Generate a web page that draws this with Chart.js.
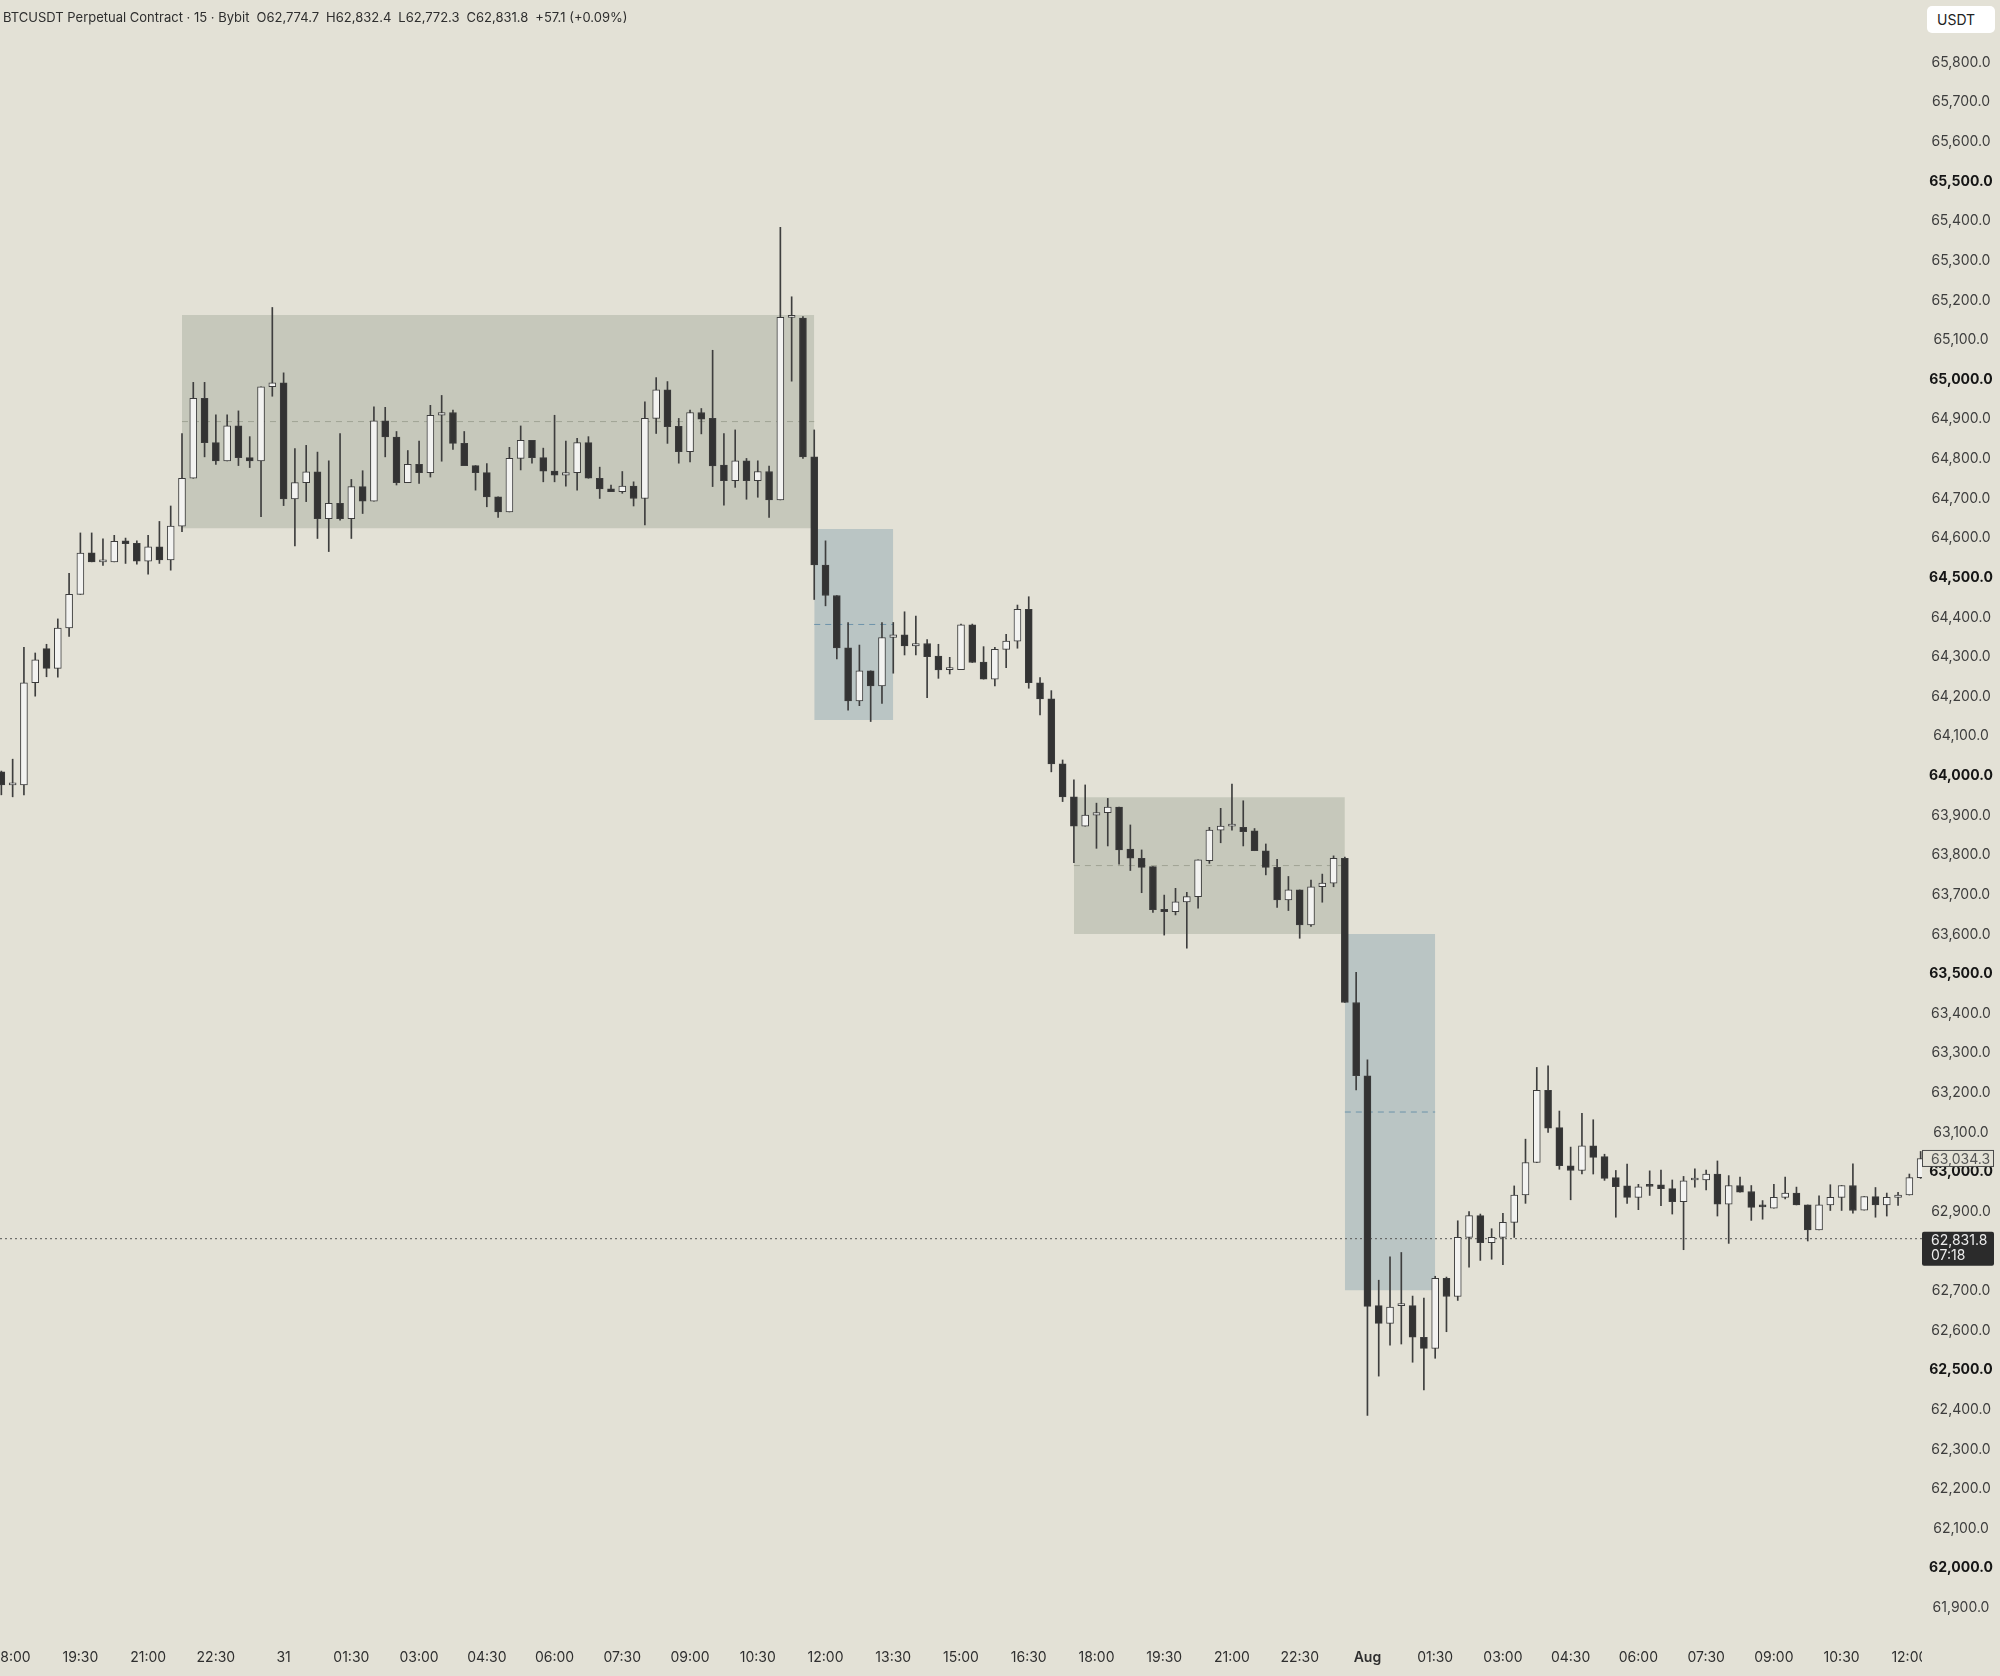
<!DOCTYPE html>
<html>
<head>
<meta charset="utf-8">
<title>BTCUSDT 15m</title>
<script src="https://cdn.jsdelivr.net/npm/chart.js@4.4.1/dist/chart.umd.min.js"></script>
<style>
  html, body { margin: 0; padding: 0; background: #e3e1d6; }
  #wrap { position: relative; width: 2000px; height: 1676px; overflow: hidden; }
  #legend {
    position: absolute; left: 3px; top: 9px;
    font: 13px Inter, "Noto Sans", sans-serif; color: #2e2e2e; white-space: pre;
  }
  #legend span { margin-left: 7px; }
  #unit {
    position: absolute; left: 1927px; top: 6px; width: 68px; height: 27px;
    background: #fff; border-radius: 5px; box-sizing: border-box; padding-left: 10px;
    font: 14px Inter, "Noto Sans", sans-serif; line-height: 27px; color: #222;
  }
</style>
</head>
<body>
<div id="wrap">
  <canvas id="chart"></canvas>
  <div id="legend">BTCUSDT Perpetual Contract · 15 · Bybit<span>O62,774.7</span><span>H62,832.4</span><span>L62,772.3</span><span>C62,831.8</span><span>+57.1 (+0.09%)</span></div>
  <div id="unit">USDT</div>
</div>
<script>
// ── 15m candles, first one opens 17:45 (Jul 30) ─────────────
const opens = [
  64010, 63977, 63977, 64235, 64321, 64271, 64373, 64458, 64563, 64540,
  64540, 64593, 64587, 64542, 64578, 64545, 64630, 64751, 64953, 64841,
  64795, 64883, 64803, 64795, 64982, 64992, 64699, 64740, 64767, 64649,
  64688, 64649, 64730, 64693, 64896, 64855, 64740, 64786, 64765, 64910,
  64917, 64839, 64783, 64765, 64704, 64666, 64801, 64847, 64803, 64769,
  64759, 64765, 64841, 64751, 64724, 64717, 64731, 64700, 64902, 64974,
  64882, 64818, 64917, 64902, 64784, 64745, 64795, 64745, 64768, 64696,
  65157, 65155, 64805, 64532, 64455, 64323, 64189, 64265, 64227, 64349,
  64356, 64328, 64334, 64302, 64268, 64268, 64381, 64287, 64244, 64319,
  64340, 64420, 64235, 64194, 64030, 63947, 63873, 63901, 63907, 63921,
  63815, 63792, 63771, 63663, 63657, 63682, 63695, 63786, 63863, 63873,
  63870, 63861, 63811, 63769, 63687, 63712, 63624, 63720, 63729, 63792,
  63428, 63243, 62663, 62618, 62663, 62663, 62583, 62555, 62732, 62686,
  62835, 62890, 62822, 62835, 62873, 62942, 63024, 63206, 63112, 63016,
  63004, 63066, 63039, 62986, 62965, 62936, 62966, 62968, 62958, 62925,
  62980, 62980, 62995, 62919, 62966, 62951, 62913, 62909, 62936, 62947,
  62917, 62854, 62917, 62936, 62966, 62904, 62938, 62917, 62936, 62942,
  62986
];
const highs = [
  64012, 64042, 64324, 64310, 64332, 64396, 64511, 64613, 64613, 64598,
  64607, 64600, 64593, 64607, 64642, 64681, 64864, 64993, 64993, 64911,
  64911, 64921, 64856, 64982, 65182, 65017, 64826, 64834, 64817, 64795,
  64864, 64748, 64770, 64931, 64930, 64869, 64821, 64845, 64935, 64960,
  64923, 64869, 64783, 64788, 64704, 64829, 64883, 64847, 64827, 64910,
  64845, 64852, 64856, 64779, 64734, 64768, 64742, 64944, 65005, 64995,
  64902, 64923, 64927, 65074, 64864, 64873, 64801, 64795, 64782, 65384,
  65209, 65159, 64873, 64593, 64455, 64387, 64330, 64265, 64387, 64387,
  64414, 64403, 64344, 64332, 64299, 64383, 64383, 64326, 64324, 64357,
  64431, 64452, 64248, 64215, 64040, 63990, 63977, 63931, 63943, 63921,
  63876, 63813, 63771, 63699, 63716, 63706, 63788, 63870, 63918, 63979,
  63937, 63867, 63828, 63789, 63746, 63712, 63737, 63752, 63798, 63795,
  63504, 63283, 62727, 62786, 62797, 62687, 62682, 62737, 62735, 62877,
  62900, 62894, 62857, 62896, 62965, 63083, 63264, 63268, 63154, 63063,
  63148, 63132, 63045, 63004, 63020, 62969, 63003, 63005, 62980, 62989,
  63008, 63005, 63028, 62991, 62987, 62966, 62928, 62969, 62987, 62962,
  62917, 62940, 62968, 62966, 63021, 62938, 62961, 62947, 62949, 62995,
  63052
];
const lows = [
  63952, 63947, 63952, 64201, 64250, 64249, 64352, 64458, 64540, 64531,
  64540, 64536, 64534, 64509, 64536, 64519, 64616, 64751, 64805, 64786,
  64795, 64783, 64778, 64654, 64958, 64682, 64580, 64692, 64599, 64566,
  64645, 64599, 64662, 64693, 64805, 64734, 64740, 64738, 64754, 64794,
  64824, 64783, 64721, 64679, 64652, 64666, 64772, 64789, 64742, 64742,
  64731, 64721, 64751, 64700, 64717, 64713, 64681, 64633, 64864, 64839,
  64789, 64792, 64863, 64730, 64683, 64728, 64698, 64703, 64652, 64696,
  64996, 64801, 64445, 64429, 64295, 64166, 64177, 64137, 64183, 64259,
  64305, 64305, 64197, 64246, 64257, 64268, 64286, 64244, 64227, 64273,
  64322, 64221, 64154, 64010, 63935, 63781, 63873, 63817, 63823, 63777,
  63761, 63705, 63655, 63598, 63649, 63565, 63666, 63779, 63831, 63863,
  63823, 63811, 63750, 63668, 63660, 63590, 63620, 63681, 63720, 63428,
  63207, 62386, 62485, 62563, 62566, 62520, 62450, 62530, 62597, 62676,
  62760, 62777, 62780, 62766, 62835, 62921, 63024, 63100, 63007, 62930,
  62995, 62995, 62979, 62886, 62921, 62905, 62941, 62915, 62894, 62804,
  62962, 62955, 62889, 62820, 62949, 62878, 62881, 62909, 62932, 62917,
  62826, 62854, 62903, 62903, 62896, 62904, 62886, 62889, 62916, 62942,
  62984
];
const closes = [
  63977, 63978, 64235, 64293, 64271, 64373, 64458, 64562, 64540, 64541,
  64592, 64586, 64542, 64578, 64545, 64630, 64751, 64953, 64841, 64795,
  64883, 64803, 64795, 64982, 64992, 64699, 64740, 64767, 64649, 64688,
  64649, 64730, 64693, 64896, 64855, 64740, 64786, 64765, 64910, 64917,
  64839, 64783, 64765, 64704, 64666, 64801, 64847, 64803, 64769, 64759,
  64765, 64841, 64751, 64724, 64717, 64731, 64700, 64902, 64974, 64881,
  64818, 64917, 64900, 64782, 64745, 64795, 64745, 64768, 64696, 65157,
  65158, 64805, 64532, 64455, 64323, 64189, 64265, 64227, 64349, 64356,
  64328, 64334, 64301, 64267, 64269, 64381, 64286, 64244, 64319, 64340,
  64420, 64235, 64194, 64030, 63947, 63873, 63901, 63907, 63921, 63813,
  63792, 63769, 63662, 63657, 63682, 63695, 63788, 63863, 63873, 63874,
  63859, 63811, 63769, 63687, 63712, 63624, 63720, 63729, 63792, 63428,
  63243, 62661, 62618, 62659, 62664, 62583, 62555, 62732, 62686, 62835,
  62890, 62822, 62835, 62873, 62942, 63024, 63206, 63111, 63016, 63004,
  63066, 63037, 62984, 62963, 62936, 62963, 62964, 62958, 62925, 62978,
  62981, 62995, 62919, 62966, 62949, 62911, 62912, 62936, 62947, 62917,
  62854, 62917, 62936, 62966, 62903, 62938, 62917, 62936, 62942, 62986,
  63034.3
];

// ── Time axis: one label every 6 candles (1h30) ─────────────
const timeLabels = [
  '18:00', '19:30', '21:00', '22:30', '31', '01:30', '03:00', '04:30', '06:00', '07:30',
  '09:00', '10:30', '12:00', '13:30', '15:00', '16:30', '18:00', '19:30', '21:00', '22:30',
  'Aug', '01:30', '03:00', '04:30', '06:00', '07:30', '09:00', '10:30', '12:00'
];
const boldLabels = ['Aug'];
const firstLabelAt = 1;
const labelEvery = 6;

// ── Range / drop boxes (candle index span, price span) ──────
const boxStart  = [16, 72, 95, 119];
const boxEnd    = [72, 79, 119, 127];
const boxTop    = [65163, 64623, 63946, 63601];
const boxBottom = [64625, 64141, 63601, 62702];
const boxKind   = ['range', 'drop', 'range', 'drop'];

// ── Price lines ─────────────────────────────────────────────
const lastPrice = 62831.8;
const lastTimer = '07:18';

// ── View window ─────────────────────────────────────────────
const xMin = -0.12, xMax = 170.12;
const yMin = 61819, yMax = 65958;
const priceTickTop = 65800;

const FONT = 'Inter, "Noto Sans", sans-serif';
const BG = '#e3e1d6';
const boxFill = { range: '#c6c8bb', drop: '#bac5c4' };
const boxMid  = { range: '#9fa394', drop: '#6d93aa' };
const upFill = '#f3f3f1', downFill = '#333333', edge = '#3c3c3c';

const fmt = v => v.toLocaleString('en-US', { minimumFractionDigits: 1, maximumFractionDigits: 1 });

const ks = opens.map((_, k) => k);

const boxSets = boxTop.map((top, b) => ({
  type: 'line',
  data: [{ x: boxStart[b], y: top }, { x: boxEnd[b], y: top }],
  fill: { value: boxBottom[b] },
  backgroundColor: boxFill[boxKind[b]],
  borderColor: 'transparent',
  pointRadius: 0,
  order: 10
}));

const midSets = boxTop.map((top, b) => ({
  type: 'line',
  data: [{ x: boxStart[b], y: (top + boxBottom[b]) / 2 }, { x: boxEnd[b], y: (top + boxBottom[b]) / 2 }],
  borderColor: boxMid[boxKind[b]],
  borderWidth: 1,
  borderDash: [6, 5],
  pointRadius: 0,
  fill: false,
  order: 9
}));

const lastLine = {
  type: 'line',
  data: [{ x: xMin, y: lastPrice }, { x: xMax, y: lastPrice }],
  borderColor: '#555555',
  borderWidth: 1,
  borderDash: [2, 3],
  pointRadius: 0,
  fill: false,
  order: 8
};

const wicks = {
  type: 'bar',
  data: ks.map(k => ({ x: k, y: [lows[k], highs[k]] })),
  backgroundColor: '#3e3e3e',
  barThickness: 1,
  grouped: false,
  order: 2
};

const bodies = {
  type: 'bar',
  data: ks.map(k => ({ x: k, y: [opens[k], closes[k]] })),
  backgroundColor: ks.map(k => closes[k] >= opens[k] ? upFill : downFill),
  borderColor: edge,
  borderWidth: 1,
  borderSkipped: false,
  barThickness: 7,
  minBarLength: 2,
  grouped: false,
  order: 1
};

// time labels under the pane, placed with the x scale
const timeAxis = {
  id: 'timeAxis',
  afterDraw(chart) {
    const { ctx, scales: { x }, chartArea } = chart;
    ctx.save();
    ctx.beginPath();
    ctx.rect(0, chartArea.bottom, chartArea.right, chart.height - chartArea.bottom);
    ctx.clip();
    ctx.textAlign = 'center';
    ctx.textBaseline = 'middle';
    ctx.fillStyle = '#2f2f2f';
    timeLabels.forEach((lab, j) => {
      const px = x.getPixelForValue(firstLabelAt + j * labelEvery);
      ctx.font = (boldLabels.includes(lab) ? '600 ' : '400 ') + '14px ' + FONT;
      ctx.fillText(lab, px, chartArea.bottom + 18);
    });
    ctx.restore();
  }
};

// price tags on the right scale
const priceTags = {
  id: 'priceTags',
  afterDraw(chart) {
    const { ctx, scales: { y }, chartArea } = chart;
    const x0 = chartArea.right;
    ctx.save();
    ctx.font = '14px ' + FONT;
    ctx.textBaseline = 'middle';
    ctx.textAlign = 'left';

    // close of the last candle
    const close = closes[closes.length - 1];
    const cy = y.getPixelForValue(close);
    ctx.fillStyle = BG;
    ctx.fillRect(x0, cy - 8.5, 72, 17);
    ctx.strokeStyle = '#4a4a4a';
    ctx.lineWidth = 1;
    ctx.strokeRect(x0 + 0.5, cy - 8, 71, 16);
    ctx.fillStyle = '#555';
    ctx.fillText(fmt(close), x0 + 9, cy + 1);

    // live price + countdown
    const ly = y.getPixelForValue(lastPrice);
    ctx.fillStyle = '#2b2b2b';
    ctx.beginPath();
    ctx.roundRect(x0, ly - 7, 72, 34, 2);
    ctx.fill();
    ctx.fillStyle = '#ececec';
    ctx.fillText(fmt(lastPrice), x0 + 9, ly + 2);
    ctx.fillText(lastTimer, x0 + 9, ly + 17);
    ctx.restore();
  }
};

new Chart(document.getElementById('chart'), {
  type: 'bar',
  data: { datasets: [bodies, wicks, lastLine, ...midSets, ...boxSets] },
  options: {
    responsive: true,
    maintainAspectRatio: false,
    animation: false,
    layout: { padding: 0, autoPadding: false },
    plugins: { legend: { display: false }, tooltip: { enabled: false } },
    scales: {
      x: {
        type: 'linear',
        min: xMin,
        max: xMax,
        offset: false,
        grid: { display: false, drawTicks: false },
        border: { display: false },
        ticks: { display: false },
        afterFit: s => { s.height = 36; }
      },
      y: {
        position: 'right',
        min: yMin,
        max: yMax,
        grid: { display: false, drawTicks: false },
        border: { display: false },
        afterBuildTicks: s => { s.ticks = s.ticks.filter(t => t.value <= priceTickTop); },
        afterFit: s => { s.width = 78; s.paddingTop = 0; s.paddingBottom = 0; },
        ticks: {
          stepSize: 100,
          includeBounds: false,
          crossAlign: 'center',
          padding: 7,
          color: c => c.tick && c.tick.value % 500 === 0 ? '#151515' : '#3d3d3d',
          font: c => ({ family: FONT, size: 14, weight: c.tick && c.tick.value % 500 === 0 ? '700' : '400' }),
          callback: v => fmt(v)
        }
      }
    }
  },
  plugins: [timeAxis, priceTags]
});
</script>
</body>
</html>
